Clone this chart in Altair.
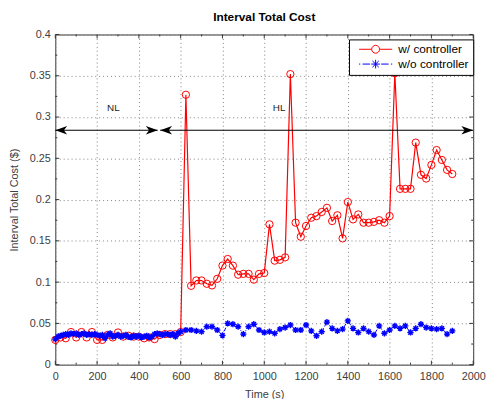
import altair as alt
import pandas as pd

# ---------------- data ----------------
series_names = ["w/ controller", "w/o controller"]

red_t = list(range(0, 1901, 25))
red_v = [
    0.030, 0.033, 0.032, 0.0395, 0.033, 0.0395, 0.033, 0.0395, 0.030, 0.030,
    0.036, 0.033, 0.039, 0.034, 0.035, 0.034, 0.034, 0.032, 0.033, 0.031,
    0.036, 0.037, 0.037, 0.037, 0.0395,
    0.327, 0.0955, 0.102, 0.102, 0.098, 0.096, 0.104, 0.120, 0.128, 0.120,
    0.109, 0.110, 0.110, 0.103, 0.110, 0.111, 0.170, 0.126, 0.127, 0.130,
    0.352, 0.172, 0.155, 0.168, 0.178, 0.180, 0.185, 0.190, 0.174, 0.181,
    0.153, 0.197, 0.176, 0.182, 0.172, 0.172, 0.173, 0.175, 0.172, 0.180,
    0.353, 0.213, 0.213, 0.213, 0.269, 0.230, 0.2255, 0.242, 0.260, 0.248,
    0.236, 0.231,
]

blue_t = [i * 12.5 for i in range(0, 49)] + list(range(625, 1901, 25))
blue_v = [
    0.031, 0.034, 0.035, 0.036, 0.037, 0.036, 0.038, 0.037, 0.038, 0.036,
    0.037, 0.038, 0.036, 0.037, 0.036, 0.037, 0.036, 0.035, 0.036, 0.032,
    0.036, 0.038, 0.034, 0.035, 0.036, 0.034, 0.035, 0.036, 0.034, 0.033,
    0.035, 0.034, 0.035, 0.033, 0.034, 0.035, 0.033, 0.034, 0.037, 0.038,
    0.037, 0.036, 0.037, 0.037, 0.036, 0.037, 0.034, 0.038, 0.040,
    0.042, 0.042, 0.041, 0.040, 0.046, 0.046, 0.042, 0.0355, 0.050, 0.049,
    0.046, 0.037, 0.046, 0.049, 0.042, 0.039, 0.040, 0.038, 0.043, 0.045,
    0.048, 0.042, 0.042, 0.048, 0.041, 0.035, 0.040, 0.0515, 0.044, 0.041,
    0.043, 0.053, 0.044, 0.039, 0.044, 0.040, 0.036, 0.047, 0.038, 0.042,
    0.047, 0.044, 0.047, 0.039, 0.044, 0.049, 0.045, 0.044, 0.043, 0.044,
    0.037, 0.041,
]

x_major = list(range(0, 2001, 200))
x_minor = list(range(100, 2000, 200))
y_major = [0, 0.05, 0.1, 0.15, 0.2, 0.25, 0.3, 0.35, 0.4]
y_minor = [0.025, 0.075, 0.125, 0.175, 0.225, 0.275, 0.325, 0.375]

arrow_y = 0.284
seg_start = [0, 502]
seg_end = [490, 2000]
label_text = ["NL", "HL"]
label_x = [278, 1071]
label_y = [0.311, 0.311]

assert len(red_t) == len(red_v)
assert len(blue_t) == len(blue_v)

W, H = 424, 335
RED, BLUE = "#ff0000", "#0000ff"
FONT = "Liberation Sans"
FRAME = "#333333"

xs = alt.Scale(domain=[0, 2000], nice=False)
ys = alt.Scale(domain=[0, 0.4], nice=False)

x_axis = alt.Axis(values=x_major, title="Time (s)", format="d", grid=True, gridDash=[1, 3],
                  gridColor="#808080", ticks=False, tickSize=0, domain=False,
                  labelFlush=False, labelPadding=6, titlePadding=7)
y_axis = alt.Axis(values=y_major, title="Interval Total Cost ($)", format=".2~f", grid=True,
                  gridDash=[1, 3], gridColor="#808080", ticks=False, tickSize=0, domain=False,
                  labelFlush=False, labelPadding=5, titlePadding=10)


def X(f):
    return alt.X(f, scale=xs, axis=x_axis)


def Y(f):
    return alt.Y(f, scale=ys, axis=y_axis)


red_df = pd.DataFrame({"t": red_t, "v": red_v})
blue_df = pd.DataFrame({"t": blue_t, "v": blue_v})

STAR = "M0,-1L0,1M-1,0L1,0M-0.7,-0.7L0.7,0.7M-0.7,0.7L0.7,-0.7"
ARROW_R = "M0,0L-2,-0.72L-1.45,0L-2,0.72Z"
ARROW_L = "M0,0L2,-0.72L1.45,0L2,0.72Z"
LEG_RED = "M-4.2,0L-1,0M1,0L4.2,0M1,0A1,1 0 1,1 -1,0A1,1 0 1,1 1,0"
LEG_BLUE = ("M-4.2,0L-3.9,0M-3.3,0L-1.4,0M1.4,0L3.3,0M3.9,0L4.2,0"
            "M0,-1.1L0,1.1M-1.1,0L1.1,0M-0.8,-0.8L0.8,0.8M-0.8,0.8L0.8,-0.8")

red_line = alt.Chart(red_df).mark_line(color=RED, strokeWidth=1.2).encode(x=X("t:Q"), y=Y("v:Q"))
red_pts = alt.Chart(red_df).mark_point(shape="circle", filled=False, color=RED, size=55,
                                       strokeWidth=1, opacity=1).encode(x=X("t:Q"), y=Y("v:Q"))
blue_line = alt.Chart(blue_df).mark_line(color=BLUE, strokeWidth=1, strokeDash=[4, 2, 1, 2]).encode(
    x=X("t:Q"), y=Y("v:Q"))
blue_pts = alt.Chart(blue_df).mark_point(shape=STAR, filled=False, color=BLUE, size=40,
                                         strokeWidth=1.4, opacity=1).encode(x=X("t:Q"), y=Y("v:Q"))

# arrows
seg_df = pd.DataFrame({"t": seg_start, "e": seg_end, "v": [arrow_y] * len(seg_start)})
arrow_line = alt.Chart(seg_df).mark_rule(color="black", strokeWidth=1.2).encode(
    x=X("t:Q"), x2="e:Q", y=Y("v:Q"))
head_r = alt.Chart(seg_df).mark_point(shape=ARROW_R, filled=True, color="black", size=144,
                                      opacity=1, strokeWidth=0).encode(x=X("e:Q"), y=Y("v:Q"))
head_l = alt.Chart(seg_df).mark_point(shape=ARROW_L, filled=True, color="black", size=144,
                                      opacity=1, strokeWidth=0).encode(x=X("t:Q"), y=Y("v:Q"))
lab_df = pd.DataFrame({"t": label_x, "v": label_y, "txt": label_text})
labels = alt.Chart(lab_df).mark_text(font=FONT, fontSize=10, color="#222222").encode(
    x=X("t:Q"), y=Y("v:Q"), text="txt:N")


# inward ticks
def xticks(vals, length):
    df = pd.DataFrame({"t": vals})
    b = alt.Chart(df).mark_rule(color=FRAME, strokeWidth=1).encode(
        x=X("t:Q"), y=alt.value(H), y2=alt.value(H - length))
    t = alt.Chart(df).mark_rule(color=FRAME, strokeWidth=1).encode(
        x=X("t:Q"), y=alt.value(0), y2=alt.value(length))
    return [b, t]


def yticks(vals, length):
    df = pd.DataFrame({"v": vals})
    l = alt.Chart(df).mark_rule(color=FRAME, strokeWidth=1).encode(
        y=Y("v:Q"), x=alt.value(0), x2=alt.value(length))
    r = alt.Chart(df).mark_rule(color=FRAME, strokeWidth=1).encode(
        y=Y("v:Q"), x=alt.value(W), x2=alt.value(W - length))
    return [l, r]


tick_layers = xticks(x_major, 4) + xticks(x_minor, 2) + yticks(y_major, 4) + yticks(y_minor, 2)

# legend
leg_kw = dict(title=None, orient="none", legendX=298, legendY=5, strokeColor="black",
              fillColor="white", padding=4, labelFont=FONT, labelFontSize=12,
              labelColor="black", symbolOffset=17, labelOffset=17, rowPadding=2,
              symbolStrokeWidth=1, symbolSize=64, symbolOpacity=1)
leg_df = pd.DataFrame({"series": series_names})
legend_layer = alt.Chart(leg_df).mark_point(filled=False, size=64, opacity=1).encode(
    color=alt.Color("series:N", scale=alt.Scale(domain=series_names, range=[RED, BLUE]),
                    legend=alt.Legend(**leg_kw)),
    shape=alt.Shape("series:N", scale=alt.Scale(domain=series_names, range=[LEG_RED, LEG_BLUE]),
                    legend=alt.Legend(**leg_kw)),
).transform_filter("false")

chart = alt.layer(
    red_line, *tick_layers, red_pts, blue_line, blue_pts,
    arrow_line, head_r, head_l, labels, legend_layer,
).properties(
    width=W, height=H,
    padding={"left": 0, "top": 0, "right": 0, "bottom": 0},
    title=alt.Title("Interval Total Cost", fontSize=12, fontWeight="bold", font=FONT,
                    color="black", offset=5, frame="group", anchor="middle"),
).configure_view(stroke=FRAME, strokeWidth=1).configure_axis(
    labelFont=FONT, titleFont=FONT, labelFontSize=11, titleFontSize=11,
    labelColor="#404040", titleColor="#404040", titleFontWeight="normal",
)

chart.save("out.html", embed_options={"renderer": "svg", "actions": False})
